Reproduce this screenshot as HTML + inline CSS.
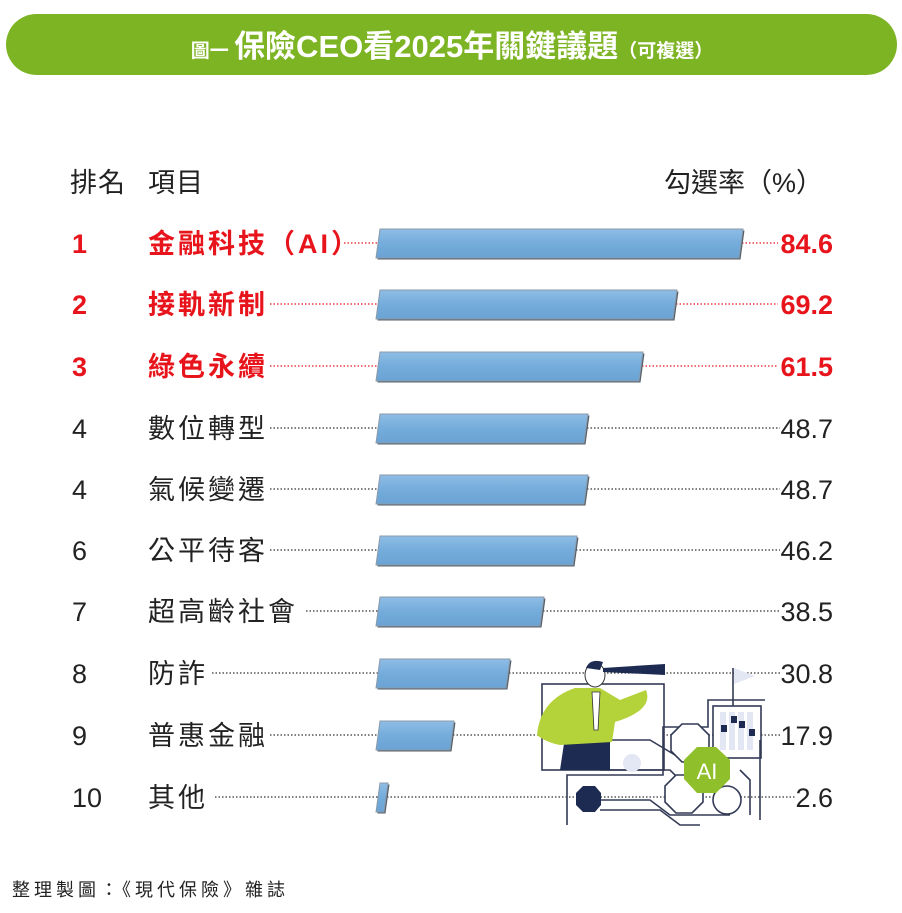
<!DOCTYPE html>
<html><head><meta charset="utf-8"><style>
html,body{margin:0;padding:0;background:#fff;}
svg{display:block;}
text{font-family:"Liberation Sans","Noto Sans CJK TC",sans-serif;}
</style></head><body>
<svg width="902" height="913" viewBox="0 0 902 913" xmlns="http://www.w3.org/2000/svg">
<defs>
<linearGradient id="bg" x1="0" y1="0" x2="0" y2="1">
<stop offset="0" stop-color="#8fbde6"/><stop offset="0.5" stop-color="#74acdb"/><stop offset="1" stop-color="#6aa3d4"/>
</linearGradient>
</defs>
<rect x="6" y="14" width="891" height="61" rx="30.5" fill="#7db424"/>
<text x="452" y="57" text-anchor="middle" fill="#fff" font-size="31" font-weight="bold" font-family="'Noto Sans CJK TC',sans-serif"><tspan font-size="19">圖一 </tspan>保險CEO看2025年關鍵議題<tspan font-size="19">（可複選）</tspan></text>

<g font-size="27" fill="#222">
<text x="70" y="192" letter-spacing="1">排名</text><text x="148" y="192" letter-spacing="1">項目</text>
<text x="823" y="192" text-anchor="end">勾選率（%）</text>
</g>

<g stroke-width="1.3" stroke-dasharray="1.5 2">
<g stroke="#e8141c">
<line x1="344" y1="243" x2="378" y2="243"/><line x1="742" y1="243" x2="778" y2="243"/>
<line x1="270" y1="304" x2="378" y2="304"/><line x1="676" y1="304" x2="778" y2="304"/>
<line x1="270" y1="366" x2="378" y2="366"/><line x1="642" y1="366" x2="778" y2="366"/>
</g>
<g stroke="#333">
<line x1="270" y1="428" x2="378" y2="428"/><line x1="587" y1="428" x2="780" y2="428"/>
<line x1="270" y1="489" x2="378" y2="489"/><line x1="587" y1="489" x2="780" y2="489"/>
<line x1="270" y1="550" x2="378" y2="550"/><line x1="576" y1="550" x2="780" y2="550"/>
<line x1="306" y1="611" x2="378" y2="611"/><line x1="543" y1="611" x2="780" y2="611"/>
<line x1="212" y1="673" x2="378" y2="673"/><line x1="509" y1="673" x2="780" y2="673"/>
<line x1="270" y1="735" x2="378" y2="735"/><line x1="453" y1="735" x2="780" y2="735"/>
<line x1="215" y1="797" x2="378" y2="797"/><line x1="387" y1="797" x2="796" y2="797"/>
</g>
</g>

<g fill="#555f6a" transform="translate(1.5,1.5)">
<polygon points="380,229 743,229 739,258 376,258"/>
<polygon points="380,290 677,290 673,319 376,319"/>
<polygon points="380,352 643,352 639,381 376,381"/>
<polygon points="380,414 588,414 584,443 376,443"/>
<polygon points="380,475 588,475 584,504 376,504"/>
<polygon points="380,536 577,536 573,565 376,565"/>
<polygon points="380,597 544,597 540,626 376,626"/>
<polygon points="380,659 510,659 506,688 376,688"/>
<polygon points="380,721 454,721 450,750 376,750"/>
<polygon points="380,783 388,783 384,812 376,812"/>
</g>
<g stroke="#8a9aaa" stroke-width="1" fill="url(#bg)">
<polygon points="380,229 743,229 739,258 376,258"/>
<polygon points="380,290 677,290 673,319 376,319"/>
<polygon points="380,352 643,352 639,381 376,381"/>
<polygon points="380,414 588,414 584,443 376,443"/>
<polygon points="380,475 588,475 584,504 376,504"/>
<polygon points="380,536 577,536 573,565 376,565"/>
<polygon points="380,597 544,597 540,626 376,626"/>
<polygon points="380,659 510,659 506,688 376,688"/>
<polygon points="380,721 454,721 450,750 376,750"/>
<polygon points="380,783 388,783 384,812 376,812"/>
</g>

<g font-size="27" fill="#e8141c" font-weight="bold">
<text x="72" y="253">1</text><text x="148" y="253" letter-spacing="3">金融科技（AI）</text><text x="833" y="253" text-anchor="end">84.6</text>
<text x="72" y="314">2</text><text x="148" y="314" letter-spacing="3">接軌新制</text><text x="833" y="314" text-anchor="end">69.2</text>
<text x="72" y="376">3</text><text x="148" y="376" letter-spacing="3">綠色永續</text><text x="833" y="376" text-anchor="end">61.5</text>
</g>
<g font-size="27" fill="#222">
<text x="72" y="438">4</text><text x="148" y="438" letter-spacing="3">數位轉型</text><text x="833" y="438" text-anchor="end">48.7</text>
<text x="72" y="499">4</text><text x="148" y="499" letter-spacing="3">氣候變遷</text><text x="833" y="499" text-anchor="end">48.7</text>
<text x="72" y="560">6</text><text x="148" y="560" letter-spacing="3">公平待客</text><text x="833" y="560" text-anchor="end">46.2</text>
<text x="72" y="621">7</text><text x="148" y="621" letter-spacing="3">超高齡社會</text><text x="833" y="621" text-anchor="end">38.5</text>
<text x="72" y="683">8</text><text x="148" y="683" letter-spacing="3">防詐</text><text x="833" y="683" text-anchor="end">30.8</text>
<text x="72" y="745">9</text><text x="148" y="745" letter-spacing="3">普惠金融</text><text x="833" y="745" text-anchor="end">17.9</text>
<text x="72" y="807">10</text><text x="148" y="807" letter-spacing="3">其他</text><text x="833" y="807" text-anchor="end">2.6</text>
</g>

<!-- illustration -->
<g stroke="#333a55" stroke-width="1.6" fill="none">
<rect x="542" y="684" width="122" height="86" fill="#fff"/>
<polyline points="567,825 567,775 663,775 663,727 708,727 708,700 765,700"/>
<rect x="713" y="706" width="48" height="52" fill="#fff"/>
<line x1="733" y1="706" x2="733" y2="668"/>
<polyline points="600,740 650,740 675,755 705,755"/>
<polyline points="600,770 670,770 690,790 720,790"/>
<polyline points="580,800 650,800 670,815 730,815"/>
<polyline points="600,810 660,810 680,825 700,825"/>
<polyline points="740,770 750,780 750,815"/>
<polyline points="760,740 760,820"/>
<polygon points="682,724 698,724 709,735 709,751 698,762 682,762 671,751 671,735" fill="#fff"/>
<polygon points="676,775 692,775 703,786 703,802 692,813 676,813 665,802 665,786" fill="#fff"/>
<circle cx="727" cy="800" r="14" fill="#fff"/>
</g>
<g fill="#e3e6f3"><rect x="720" y="712" width="6" height="38"/><rect x="729" y="712" width="6" height="38"/><rect x="738" y="712" width="6" height="38"/><rect x="747" y="712" width="6" height="38"/></g>
<g fill="#1d2a52"><rect x="721" y="725" width="6" height="7"/><rect x="731" y="716" width="6" height="7"/><rect x="739" y="721" width="6" height="7"/><rect x="749" y="729" width="6" height="7"/></g>
<polygon points="734,668 734,684 755,676" fill="#e3e6f3"/>
<circle cx="632" cy="763" r="9" fill="#e3e6f3"/>
<polygon points="583,786 595,786 601,793 601,805 595,812 583,812 576,805 576,793" fill="#1d2a52"/>
<polygon points="697,747 716,747 730,760 730,779 716,793 697,793 684,779 684,760" fill="#8fbf2a"/>
<text x="707" y="779" text-anchor="middle" fill="#fff" font-size="22">AI</text>
<path d="M560,770 L565,737 L610,730 L610,770 Z" fill="#1d2a52"/>
<path d="M537,735 Q540,700 575,688 L600,688 L620,700 L646,690 Q654,710 615,722 L612,742 L560,745 Q545,742 537,735 Z" fill="#b4d23a"/>
<polygon points="592,692 600,692 598,730 594,730" fill="#fff" stroke="#333" stroke-width="0.8"/>
<ellipse cx="595" cy="675" rx="10" ry="12" fill="#fff" stroke="#333"/>
<path d="M586,668 Q590,658 603,662 L600,670 Z" fill="#1d2a52"/>
<polygon points="603,668 665,664 665,675 603,672" fill="#1d2a52"/>

<text x="12" y="896" font-size="18" fill="#222" letter-spacing="4" font-family="'Noto Serif CJK SC','Liberation Serif',serif">整理製圖：《現代保險》雜誌</text>
</svg>
</body></html>
